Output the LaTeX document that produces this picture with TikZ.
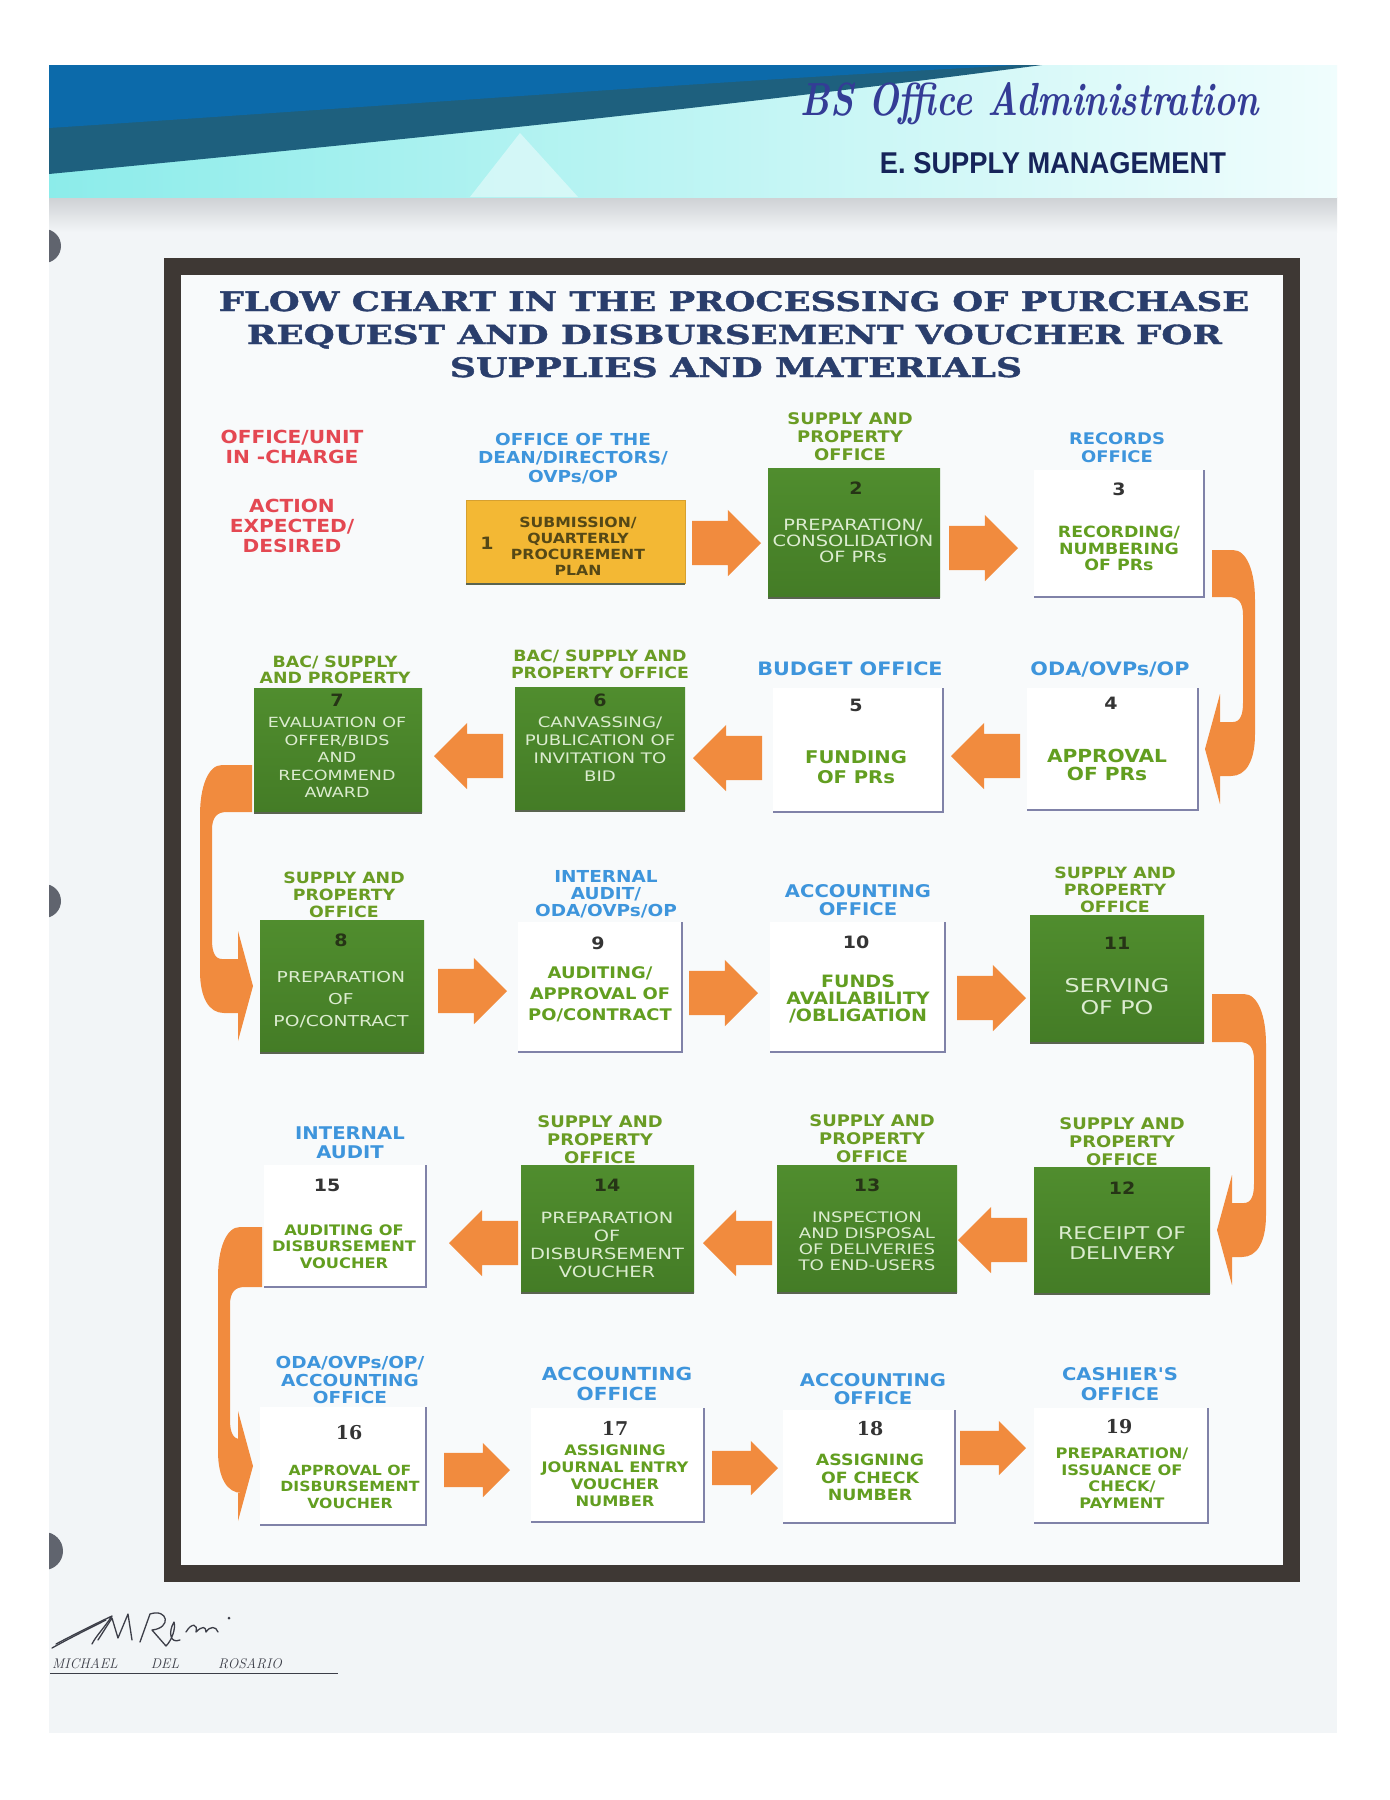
\documentclass[tikz,border=0pt]{standalone}
\usepackage{fontspec}
\usepackage{graphicx}
\usetikzlibrary{shapes.arrows,calc}
\newfontfamily\fb[FakeStretch=1.12]{DejaVu Sans}
\newfontfamily\fw[FakeStretch=1.25]{DejaVu Sans}
\newfontfamily\fser{DejaVu Serif}
\newfontfamily\fserh[FakeBold=1.3]{DejaVu Serif Bold}
\newfontfamily\fhd{Liberation Sans}
\definecolor{arrowc}{RGB}{241,139,62}
\definecolor{boxgreen}{RGB}{80,141,46}
\definecolor{boxgreenD}{RGB}{68,124,38}
\definecolor{boxyellow}{RGB}{243,184,52}
\definecolor{hgreen}{RGB}{106,156,36}
\definecolor{hblue}{RGB}{62,149,220}
\definecolor{hred}{RGB}{228,72,82}
\definecolor{wgreen}{RGB}{98,158,32}
\definecolor{gtext}{RGB}{220,236,208}
\definecolor{ytext}{RGB}{85,72,22}
\definecolor{numc}{RGB}{52,52,52}
\definecolor{numg}{RGB}{38,52,22}
\definecolor{wbordc}{RGB}{128,130,168}
\definecolor{framec}{RGB}{62,56,52}
\definecolor{titlec}{RGB}{42,62,108}
\definecolor{pagebg}{RGB}{242,245,247}
\definecolor{chartbg}{RGB}{248,250,251}
\definecolor{pagegrey}{RGB}{206,209,212}
\definecolor{hcyan}{RGB}{140,236,234}
\definecolor{hwhite}{RGB}{240,253,253}
\definecolor{hteal}{RGB}{30,96,126}
\definecolor{hblueb}{RGB}{12,106,170}
\definecolor{hdrtitle}{RGB}{52,60,150}
\definecolor{hdrnavy}{RGB}{22,36,90}
\definecolor{sigc}{RGB}{60,62,72}
\definecolor{holec}{RGB}{96,100,110}
\definecolor{gshadow}{RGB}{90,100,80}
\newcommand\boxat[6]{%
  \pgfmathsetmacro\bxw{#4-#2}\pgfmathsetmacro\bxh{#5-#3}%
  \node[#6, minimum width=\bxw pt, minimum height=\bxh pt] (#1) at ({(#2+#4)/2},{(#3+#5)/2}) {};}
% curved connector on the right: upper node, lower node, outer offset, block height
\newcommand\curvR[4]{%
\fill[arrowc] let \p1=(#1.south east), \p2=(#2.east) in
 (\x1+8pt,\y1+#4) -- (\x1+#3-22pt,\y1+#4) .. controls (\x1+#3-8pt,\y1+#4) and (\x1+#3,\y1+#4-22pt) .. (\x1+#3,\y1+#4-50pt)
 -- (\x1+#3,\y2+15pt) .. controls (\x1+#3,\y2-12pt) and (\x1+#3-9pt,\y2-27pt) .. (\x1+#3-24pt,\y2-27pt)
 -- (\x2+22pt,\y2-27pt) -- (\x2+22pt,\y2-55pt) -- (\x2+7pt,\y2) -- (\x2+22pt,\y2+55pt) -- (\x2+22pt,\y2+27pt)
 -- (\x1+#3-22pt,\y2+27pt) .. controls (\x1+#3-15pt,\y2+27pt) and (\x1+#3-12pt,\y2+34pt) .. (\x1+#3-12pt,\y2+46pt)
 -- (\x1+#3-12pt,\y1-18pt) .. controls (\x1+#3-12pt,\y1-5pt) and (\x1+#3-17pt,\y1) .. (\x1+#3-27pt,\y1) -- (\x1+8pt,\y1) -- cycle;}
\newcommand\curvL[4]{%
\fill[arrowc] let \p1=(#1.south west), \p2=(#2.west) in
 (\x1-2pt,\y1+#4) -- (\x1-#3+22pt,\y1+#4) .. controls (\x1-#3+8pt,\y1+#4) and (\x1-#3,\y1+#4-22pt) .. (\x1-#3,\y1+#4-50pt)
 -- (\x1-#3,\y2+15pt) .. controls (\x1-#3,\y2-12pt) and (\x1-#3+9pt,\y2-27pt) .. (\x1-#3+24pt,\y2-27pt)
 -- (\x2-22pt,\y2-27pt) -- (\x2-22pt,\y2-55pt) -- (\x2-7pt,\y2) -- (\x2-22pt,\y2+55pt) -- (\x2-22pt,\y2+27pt)
 -- (\x1-#3+22pt,\y2+27pt) .. controls (\x1-#3+15pt,\y2+27pt) and (\x1-#3+12pt,\y2+34pt) .. (\x1-#3+12pt,\y2+46pt)
 -- (\x1-#3+12pt,\y1-18pt) .. controls (\x1-#3+12pt,\y1-5pt) and (\x1-#3+17pt,\y1) .. (\x1-#3+27pt,\y1) -- (\x1-2pt,\y1) -- cycle;}
\begin{document}
\begin{tikzpicture}[x=1pt,y=-1pt,
  hB/.style 2 args={align=center,inner sep=0pt,text=hblue,font=\fb\bfseries\fontsize{#1}{#2}\selectfont},
  hG/.style 2 args={align=center,inner sep=0pt,text=hgreen,font=\fb\bfseries\fontsize{#1}{#2}\selectfont},
  hR/.style 2 args={align=center,inner sep=0pt,text=hred,font=\fb\bfseries\fontsize{#1}{#2}\selectfont},
  tW/.style 2 args={align=center,inner sep=0pt,text=wgreen,font=\fb\bfseries\fontsize{#1}{#2}\selectfont},
  tG/.style 2 args={align=center,inner sep=0pt,text=gtext,font=\fw\fontsize{#1}{#2}\selectfont},
  tY/.style 2 args={align=center,inner sep=0pt,text=ytext,font=\fb\bfseries\fontsize{#1}{#2}\selectfont},
  nmb/.style={inner sep=0pt,text=numc,font=\fb\bfseries\fontsize{17}{17}\selectfont},
  nmbG/.style={inner sep=0pt,text=numg,font=\fb\bfseries\fontsize{17}{17}\selectfont},
  nmbS/.style={inner sep=0pt,text=numc,font=\fser\bfseries\fontsize{19}{19}\selectfont},
  gbox/.style={top color=boxgreen,bottom color=boxgreenD,draw=none,inner sep=0pt,outer sep=0pt},
  wbox/.style={fill=white,draw=none,inner sep=0pt,outer sep=0pt},
  ybox/.style={fill=boxyellow,draw={rgb,255:red,214;green,160;blue,48},line width=1pt,inner sep=0pt,outer sep=0pt},
  wbord/.style={draw=wbordc,line width=1.8pt},
  gshad/.style={draw=gshadow,line width=2.2pt},
  barr/.style={single arrow,fill=arrowc,draw=none,inner xsep=0pt,inner ysep=22pt,outer sep=0pt,
     minimum height=69pt,single arrow head extend=11pt,anchor=tail},
  barrL/.style={barr,shape border rotate=180},
  barrS/.style={barr,minimum height=66pt,inner ysep=17pt,single arrow head extend=10pt},
  sigt/.style={inner sep=0pt,text=sigc,font=\itshape\fontsize{14}{14}\selectfont}
]
\useasboundingbox (0,0) rectangle (1390,1800);
\fill[white] (0,0) rectangle (1390,1800);
% page
\fill[pagebg] (49,197) rectangle (1337,1733);
\shade[top color=pagegrey,bottom color=pagebg] (49,197) rectangle (1337,232);
\begin{scope}
\clip (49,197) rectangle (75,1733);
\fill[holec] (44,246) circle (17);
\fill[holec] (44,901) circle (17);
\fill[holec] (44,1551) circle (19);
\end{scope}
% header band
\shade[left color=hcyan,right color=hwhite] (49,65) rectangle (1337,197);
\fill[white,opacity=0.45] (520,133) -- (578,197) -- (470,197) -- cycle;
\fill[hteal] (49,65) -- (1042,65) .. controls (700,110) and (400,140) .. (49,174) -- cycle;
\fill[hblueb] (49,65) -- (1020,65) .. controls (700,82) and (400,105) .. (49,128) -- cycle;
\node[anchor=base,inner sep=0pt,text=hdrtitle] (hdrA) at (1030,115) {\resizebox{458pt}{33pt}{\bfseries\itshape BS Office Administration}};
\node[anchor=base,inner sep=0pt,text=hdrnavy] (hdrB) at (1053,173) {\resizebox{346pt}{21pt}{\fhd\bfseries E. SUPPLY MANAGEMENT}};
% frame
\fill[chartbg] (181,275) rectangle (1283,1565);
\draw[framec,line width=17pt] (172.5,266.5) rectangle (1291.5,1573.5);
% title
\node[anchor=base,inner sep=0pt,text=titlec] (ti1) at (734,311) {\resizebox{1030pt}{20pt}{\fserh FLOW CHART IN THE PROCESSING OF PURCHASE}};
\node[anchor=base,inner sep=0pt,text=titlec] (ti2) at (734.5,344) {\resizebox{975pt}{19.5pt}{\fserh REQUEST AND DISBURSEMENT VOUCHER FOR}};
\node[anchor=base,inner sep=0pt,text=titlec] (ti3) at (736,377) {\resizebox{572pt}{20pt}{\fserh SUPPLIES AND MATERIALS}};
% left labels
\node[hR={18}{20}] (lbA) at (292,446.5) {OFFICE/UNIT\\IN -CHARGE};
\node[hR={18}{20}] (lbB) at (292,526) {ACTION\\EXPECTED/\\DESIRED};
% boxes
\boxat{b1}{466}{500}{685}{583}{ybox}
\boxat{b2}{768}{468}{940}{597}{gbox}
\boxat{b3}{1034}{470}{1204}{597}{wbox}
\boxat{b7}{254}{688}{422}{812}{gbox}
\boxat{b6}{515}{687}{685}{810}{gbox}
\boxat{b5}{773}{688}{943}{812}{wbox}
\boxat{b4}{1027}{688}{1198}{810}{wbox}
\boxat{b8}{260}{920}{424}{1052}{gbox}
\boxat{b9}{518}{922}{682}{1052}{wbox}
\boxat{b10}{770}{922}{945}{1052}{wbox}
\boxat{b11}{1030}{915}{1204}{1042}{gbox}
\boxat{b15}{264}{1165}{426}{1287}{wbox}
\boxat{b14}{521}{1165}{694}{1292}{gbox}
\boxat{b13}{777}{1165}{957}{1292}{gbox}
\boxat{b12}{1034}{1167}{1210}{1293}{gbox}
\boxat{b16}{260}{1407}{426}{1525}{wbox}
\boxat{b17}{531}{1408}{704}{1522}{wbox}
\boxat{b18}{783}{1410}{955}{1523}{wbox}
\boxat{b19}{1034}{1408}{1208}{1523}{wbox}
\foreach \b in {b3,b5,b4,b9,b10,b15,b16,b17,b18,b19}
  \draw[wbord] (\b.north east) -- (\b.south east) -- (\b.south west);
\foreach \b in {b1,b2,b7,b6,b8,b11,b14,b13,b12}
  \draw[gshad] ([yshift=-1pt]\b.south west) -- ([yshift=-1pt]\b.south east);
% straight block arrows (tail placed next to the source box)
\node[barr] (a12) at ($(b1.east)+(7,1.5)$) {};
\node[barr] (a23) at ($(b2.east)+(9,15.5)$) {};
\node[barrL] (a45) at ($(b4.west)+(-7,7)$) {};
\node[barrL] (a56) at ($(b5.west)+(-11,8)$) {};
\node[barrL] (a67) at ($(b6.west)+(-12,7.5)$) {};
\node[barr] (a89) at ($(b8.east)+(14,5)$) {};
\node[barr] (a910) at ($(b9.east)+(7,6)$) {};
\node[barr] (a1011) at ($(b10.east)+(12,11)$) {};
\node[barrL] (a1213) at ($(b12.west)+(-7,10)$) {};
\node[barrL] (a1314) at ($(b13.west)+(-5,14.5)$) {};
\node[barrL] (a1415) at ($(b14.west)+(-3,14.5)$) {};
\node[barrS] (a1617) at ($(b16.east)+(18,4)$) {};
\node[barrS] (a1718) at ($(b17.east)+(8,3)$) {};
\node[barrS] (a1819) at ($(b18.east)+(5,-18.5)$) {};
% curved block arrows
\curvR{b3}{b4}{51pt}{47pt}
\curvL{b7}{b8}{54pt}{47pt}
\curvR{b11}{b12}{62pt}{48pt}
\curvL{b15}{b16}{46pt}{60pt}
% headers
\node[hB={16.5}{18.5}] (h1) at (573,458.5) {OFFICE OF THE\\DEAN/DIRECTORS/\\OVPs/OP};
\node[hG={16}{18}] (h2) at (850,437) {SUPPLY AND\\PROPERTY\\OFFICE};
\node[hB={16}{18}] (h3) at (1117,448) {RECORDS\\OFFICE};
\node[hG={15.5}{16}] (h7) at (335,670) {BAC/ SUPPLY\\AND PROPERTY};
\node[hG={15.5}{17}] (h6) at (600,664.5) {BAC/ SUPPLY AND\\PROPERTY OFFICE};
\node[hB={18.5}{20}] (h5) at (850,669) {BUDGET OFFICE};
\node[hB={18.5}{20}] (h4) at (1110,669) {ODA/OVPs/OP};
\node[hG={15.5}{17}] (h8) at (344,895) {SUPPLY AND\\PROPERTY\\OFFICE};
\node[hB={16.5}{17}] (h9) at (606,894) {INTERNAL\\AUDIT/\\ODA/OVPs/OP};
\node[hB={17.5}{18}] (h10) at (858,900) {ACCOUNTING\\OFFICE};
\node[hG={15.5}{17}] (h11) at (1115,890) {SUPPLY AND\\PROPERTY\\OFFICE};
\node[hB={17.5}{19}] (h15) at (350,1143) {INTERNAL\\AUDIT};
\node[hG={16}{18}] (h14) at (600,1140) {SUPPLY AND\\PROPERTY\\OFFICE};
\node[hG={16}{18}] (h13) at (872,1139) {SUPPLY AND\\PROPERTY\\OFFICE};
\node[hG={16}{18}] (h12) at (1122,1142) {SUPPLY AND\\PROPERTY\\OFFICE};
\node[hB={16.5}{17.5}] (h16) at (350,1380) {ODA/OVPs/OP/\\ACCOUNTING\\OFFICE};
\node[hB={18}{20}] (h17) at (617,1384) {ACCOUNTING\\OFFICE};
\node[hB={17.5}{18}] (h18) at (873,1389) {ACCOUNTING\\OFFICE};
\node[hB={17.5}{20}] (h19) at (1120,1384.5) {CASHIER'S\\OFFICE};
% box texts and numbers
\node[tY={14}{16}] (t1) at (578,546) {SUBMISSION/\\QUARTERLY\\PROCUREMENT\\PLAN};
\node[nmb,text=ytext] (n1) at (487,543) {1};
\node[tG={15.5}{16}] (t2) at (853,541) {PREPARATION/\\CONSOLIDATION\\OF PRs};
\node[nmbG] (n2) at (856,488) {2};
\node[tW={15.5}{16.5}] (t3) at (1119,548.5) {RECORDING/\\NUMBERING\\OF PRs};
\node[nmb] (n3) at (1119,489) {3};
\node[tG={14}{17.5}] (t7) at (337,757.5) {EVALUATION OF\\OFFER/BIDS\\AND\\RECOMMEND\\AWARD};
\node[nmbG] (n7) at (337,700) {7};
\node[tG={14.5}{18}] (t6) at (600,749.5) {CANVASSING/\\PUBLICATION OF\\INVITATION TO\\BID};
\node[nmbG] (n6) at (600,700) {6};
\node[tW={17.5}{20}] (t5) at (856,767) {FUNDING\\OF PRs};
\node[nmb] (n5) at (856,705) {5};
\node[tW={18}{18}] (t4) at (1107,765) {APPROVAL\\OF PRs};
\node[nmb] (n4) at (1111,703) {4};
\node[tG={15}{22}] (t8) at (341,1000) {PREPARATION\\OF\\PO/CONTRACT};
\node[nmbG] (n8) at (341,940) {8};
\node[tW={16}{21}] (t9) at (600,994) {AUDITING/\\APPROVAL OF\\PO/CONTRACT};
\node[nmb] (n9) at (598,943) {9};
\node[tW={17}{17}] (t10) at (858,998.5) {FUNDS\\AVAILABILITY\\/OBLIGATION};
\node[nmb] (n10) at (856,942) {10};
\node[tG={19}{22}] (t11) at (1117,996.5) {SERVING\\OF PO};
\node[nmbG] (n11) at (1117,943) {11};
\node[tW={14.5}{16.5}] (t15) at (344,1246.5) {AUDITING OF\\DISBURSEMENT\\VOUCHER};
\node[nmb] (n15) at (327,1185) {15};
\node[tG={15.5}{18}] (t14) at (607,1244.5) {PREPARATION\\OF\\DISBURSEMENT\\VOUCHER};
\node[nmbG] (n14) at (607,1185) {14};
\node[tG={14.5}{16}] (t13) at (867,1241) {INSPECTION\\AND DISPOSAL\\OF DELIVERIES\\TO END-USERS};
\node[nmbG] (n13) at (867,1185) {13};
\node[tG={17.5}{20}] (t12) at (1122,1243) {RECEIPT OF\\DELIVERY};
\node[nmbG] (n12) at (1122,1188) {12};
\node[tW={14}{16.5}] (t16) at (350,1486.5) {APPROVAL OF\\DISBURSEMENT\\VOUCHER};
\node[nmbS] (n16) at (349,1433) {16};
\node[tW={14.5}{17}] (t17) at (615,1476) {ASSIGNING\\JOURNAL ENTRY\\VOUCHER\\NUMBER};
\node[nmbS] (n17) at (615,1428) {17};
\node[tW={15.5}{17.5}] (t18) at (870,1477.5) {ASSIGNING\\OF CHECK\\NUMBER};
\node[nmbS] (n18) at (870,1429) {18};
\node[tW={14.5}{16.7}] (t19) at (1122,1478) {PREPARATION/\\ISSUANCE OF\\CHECK/\\PAYMENT};
\node[nmbS] (n19) at (1119,1427) {19};
% signature
\begin{scope}[draw=sigc,line width=1.3pt,line cap=round,line join=round]
\draw (52,1648) .. controls (70,1638) and (90,1628) .. (106,1620);
\draw (56,1644) .. controls (75,1634) and (95,1624) .. (112,1616) .. controls (104,1628) and (96,1636) .. (92,1644);
\draw (98,1640) -- (112,1618) -- (118,1638) -- (128,1614) -- (132,1640);
\draw (140,1642) -- (150,1614) .. controls (168,1608) and (172,1628) .. (152,1630) -- (166,1646) .. controls (172,1640) and (176,1628) .. (174,1622) .. controls (168,1632) and (170,1644) .. (180,1640);
\draw (186,1632) .. controls (192,1622) and (198,1624) .. (196,1632) .. controls (202,1626) and (206,1626) .. (206,1632) .. controls (210,1626) and (216,1626) .. (218,1632);
\fill[sigc] (229,1618) circle (1.5);
\end{scope}
\node[sigt,anchor=base] (sgA) at (85,1668) {MICHAEL};
\node[sigt,anchor=base] (sgB) at (165,1668) {DEL};
\node[sigt,anchor=base] (sgC) at (250,1668) {ROSARIO};
\draw[sigc,line width=1pt] (50,1673) -- (338,1673);
\end{tikzpicture}
\end{document}
